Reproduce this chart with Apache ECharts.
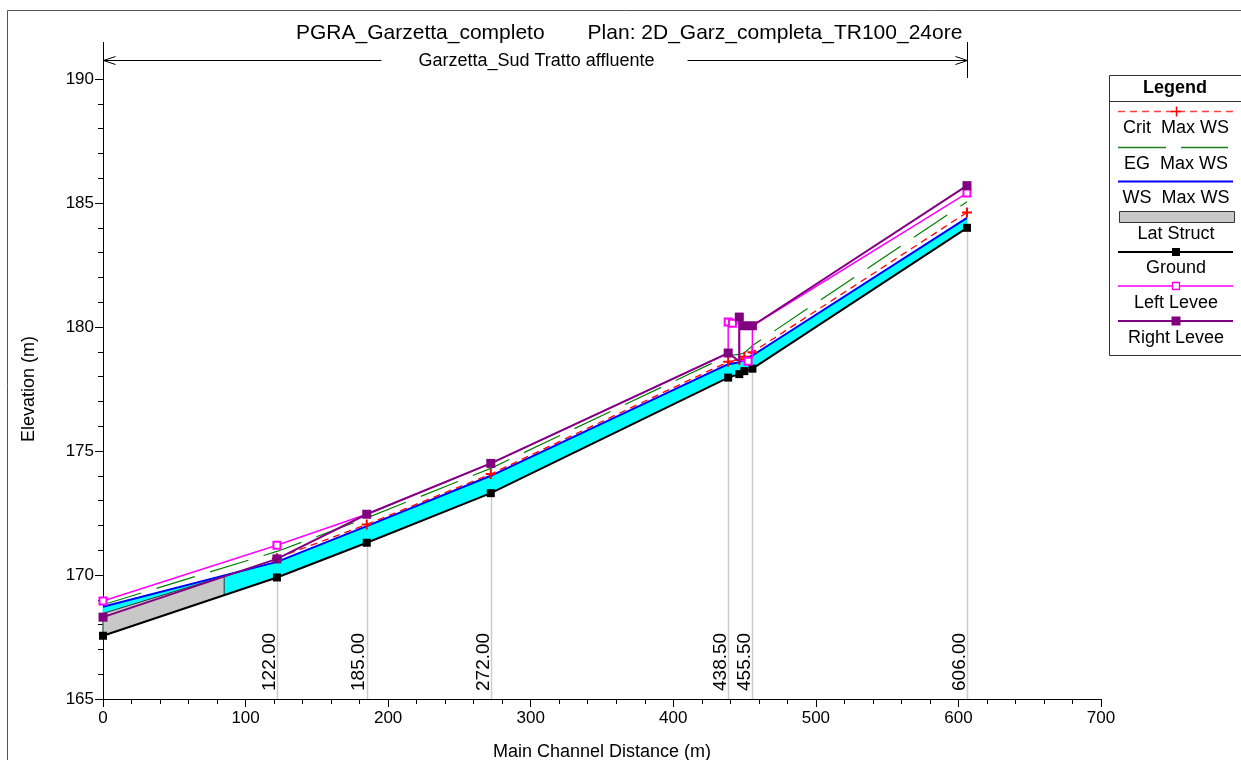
<!DOCTYPE html>
<html>
<head>
<meta charset="utf-8">
<script src="https://cdn.jsdelivr.net/npm/echarts@6/dist/echarts.min.js"></script>
<style>html,body{margin:0;padding:0;background:#fff}#c{width:1241px;height:760px}</style>
</head>
<body>
<div id="c"></div>
<script>
// ---- data ----
const titleLeft = 'PGRA_Garzetta_completo';
const titleRight = 'Plan: 2D_Garz_completa_TR100_24ore';
const reachName = 'Garzetta_Sud Tratto affluente';
const reachStart = 0;
const reachEnd = 606;

const stations = [0, 122, 185, 272, 438.5, 446.3, 449.8, 455.5, 606];
const ground   = [167.55, 169.9, 171.3, 173.3, 177.96, 178.1, 178.22, 178.32, 184.0];
const wsMax    = [168.72, 170.53, 171.97, 174.0, 178.5, 178.58, 178.7, 178.85, 184.4];
const egMax    = [168.8, 170.95, 172.3, 174.3, 178.85, 178.9, 178.95, 179.25, 185.05];
const critX    = [122, 185, 272, 438.5, 446.3, 449.8, 455.5, 606];
const critMax  = [170.68, 172.04, 174.07, 178.6, 178.67, 178.8, 178.98, 184.62];

const leftLeveeX    = [0, 122, 185, 272, 438.5, 438.5, 441.5, 446.3, 446.3, 452.5, 455.5, 455.5, 606];
const leftLeveeY    = [168.95, 171.2, 172.45, 174.5, 178.95, 180.2, 180.15, 180.15, 178.65, 178.62, 178.75, 180.05, 185.4];
const leftLeveeMark = [1, 1, 0, 0, 0, 1, 1, 0, 0, 1, 0, 0, 1];

const rightLeveeX    = [0, 122, 185, 272, 438.5, 446.3, 446.3, 449.8, 455.5, 606];
const rightLeveeY    = [168.3, 170.65, 172.45, 174.5, 178.95, 178.62, 180.4, 180.05, 180.05, 185.7];
const rightLeveeMark = [1, 1, 1, 1, 1, 0, 1, 1, 1, 1];

const latStructX      = [0, 85];
const latStructTop    = [168.45, 169.95];
const latStructBottom = [167.55, 169.19];

const labeledStations = [122, 185, 272, 438.5, 455.5, 606];
const stationLabels   = ['122.00', '185.00', '272.00', '438.50', '455.50', '606.00'];

const xMin = 0, xMax = 700, xStep = 100;
const yMin = 165, yMax = 190, yStep = 5;

// ---- chart ----
const FONT = '"Liberation Sans", Arial, sans-serif';
const chart = echarts.init(document.getElementById('c'), null, {renderer: 'canvas'});

function pairs(xs, ys) { return xs.map((x, i) => [x, ys[i]]); }
function groundAt(s) { return ground[stations.indexOf(s)]; }

const plusPath = 'path://M4,0H6V4H10V6H6V10H4V6H0V4H4Z';

const legendX0 = 1118, legendX1 = 1233, legendCx = 1176;
const legendText = (t, y) => ({type: 'text', x: legendCx, y: y, style: {text: t, font: '18px ' + FONT, fill: '#000', align: 'center', verticalAlign: 'middle'}, z: 100});
const legendLine = (y, color, w, dash) => ({type: 'line', shape: {x1: legendX0, y1: y, x2: legendX1, y2: y}, style: {stroke: color, lineWidth: w, lineDash: dash || null}, z: 100});

const option = {
  animation: false,
  backgroundColor: '#fff',
  title: {
    text: '{a|' + titleLeft + '}{g|}{a|' + titleRight + '}',
    left: 291, top: 18,
    textStyle: {fontWeight: 'normal', rich: {a: {fontFamily: FONT, fontSize: 21, fontWeight: 'normal', color: '#000'}, g: {width: 43}}}
  },
  grid: {left: 103, right: 140, top: 79, bottom: 61, containLabel: false, outerBoundsMode: 'none'},
  xAxis: {
    type: 'value', min: xMin, max: xMax, interval: xStep,
    name: 'Main Channel Distance (m)', nameLocation: 'middle', nameGap: 44,
    nameTextStyle: {fontFamily: FONT, fontSize: 18, color: '#000'},
    axisLine: {show: true, onZero: false, lineStyle: {color: '#000', width: 1}},
    axisTick: {show: true, length: 8, lineStyle: {color: '#000'}},
    minorTick: {show: true, splitNumber: 5, length: 5, lineStyle: {color: '#000'}},
    axisLabel: {fontFamily: FONT, fontSize: 17, color: '#000', margin: 11},
    splitLine: {show: false}
  },
  yAxis: {
    type: 'value', min: yMin, max: yMax, interval: yStep,
    name: 'Elevation (m)', nameLocation: 'middle', nameGap: 65, nameRotate: 90,
    nameTextStyle: {fontFamily: FONT, fontSize: 18, color: '#000'},
    axisLine: {show: true, onZero: false, lineStyle: {color: '#000', width: 1}},
    axisTick: {show: true, length: 8, lineStyle: {color: '#000'}},
    minorTick: {show: true, splitNumber: 5, length: 5, lineStyle: {color: '#000'}},
    axisLabel: {fontFamily: FONT, fontSize: 17, color: '#000', margin: 9},
    splitLine: {show: false}
  },
  graphic: {elements: [
    {type: 'rect', shape: {x: 7.5, y: 10.5, width: 1400, height: 900}, style: {fill: 'none', stroke: '#555', lineWidth: 1}, z: 90},
    {type: 'rect', shape: {x: 1109.5, y: 75.5, width: 200, height: 280}, style: {fill: '#fff', stroke: '#333', lineWidth: 1}, z: 99},
    {type: 'text', x: 1175, y: 88, style: {text: 'Legend', font: 'bold 18px ' + FONT, fill: '#000', align: 'center', verticalAlign: 'middle'}, z: 100},
    {type: 'line', shape: {x1: 1109, y1: 101.5, x2: 1241, y2: 101.5}, style: {stroke: '#333', lineWidth: 1}, z: 100},
    legendLine(111.5, '#ff4040', 1.5, [7, 5]),
    {type: 'line', shape: {x1: legendCx - 5, y1: 111.5, x2: legendCx + 5, y2: 111.5}, style: {stroke: '#ff0000', lineWidth: 1.5}, z: 101},
    {type: 'line', shape: {x1: legendCx + 0.5, y1: 106.5, x2: legendCx + 0.5, y2: 116.5}, style: {stroke: '#ff0000', lineWidth: 1.5}, z: 101},
    legendText('Crit  Max WS', 128),
    {type: 'line', shape: {x1: 1118, y1: 147.5, x2: 1166, y2: 147.5}, style: {stroke: '#208020', lineWidth: 1.3}, z: 100},
    {type: 'line', shape: {x1: 1181, y1: 147.5, x2: 1228, y2: 147.5}, style: {stroke: '#208020', lineWidth: 1.3}, z: 100},
    legendText('EG  Max WS', 164),
    legendLine(181.5, '#0000ff', 2),
    legendText('WS  Max WS', 198),
    {type: 'rect', shape: {x: 1119.5, y: 211.5, width: 115, height: 11}, style: {fill: '#c8c8c8', stroke: '#333', lineWidth: 1}, z: 100},
    legendText('Lat Struct', 234),
    legendLine(252, '#000', 2),
    {type: 'rect', shape: {x: legendCx - 4, y: 248, width: 8, height: 8}, style: {fill: '#000'}, z: 101},
    legendText('Ground', 268),
    legendLine(286, '#ff00ff', 1.5),
    {type: 'rect', shape: {x: legendCx - 3.5, y: 282.5, width: 7, height: 7}, style: {fill: '#fff', stroke: '#ff00ff', lineWidth: 1.3}, z: 101},
    legendText('Left Levee', 303),
    legendLine(321, '#800080', 2),
    {type: 'rect', shape: {x: legendCx - 4.5, y: 316.5, width: 9, height: 9}, style: {fill: '#800080'}, z: 101},
    legendText('Right Levee', 338)
  ]},
  series: [
    { // station gridlines + labels
      type: 'custom', z: 1, silent: true,
      data: labeledStations.map(s => [s, groundAt(s)]),
      renderItem: function (params, api) {
        const p0 = api.coord([api.value(0), yMin]);
        const p1 = api.coord([api.value(0), api.value(1)]);
        return {type: 'group', children: [
          {type: 'line', shape: {x1: Math.round(p0[0]) + 0.5, y1: p0[1], x2: Math.round(p0[0]) + 0.5, y2: p1[1]}, style: {stroke: '#cccccc', lineWidth: 1.5}},
          {type: 'text', x: p0[0] + 2, y: p0[1] - 8, rotation: Math.PI / 2, z2: 5,
           style: {text: stationLabels[params.dataIndex], font: '19px ' + FONT, fill: '#000', align: 'left', verticalAlign: 'bottom'}}
        ]};
      }
    },
    { // water (WS) fill
      type: 'custom', z: 2, silent: true, data: [[0, yMin]],
      renderItem: function (params, api) {
        const top = stations.map((x, i) => api.coord([x, wsMax[i]]));
        const bot = stations.map((x, i) => api.coord([x, ground[i]])).reverse();
        return {type: 'polygon', shape: {points: top.concat(bot)}, style: {fill: '#00ffff', stroke: '#00c0c0', lineWidth: 0.5}};
      }
    },
    { // lateral structure
      type: 'custom', z: 3, silent: true, data: [[0, yMin]],
      renderItem: function (params, api) {
        const top = latStructX.map((x, i) => api.coord([x, latStructTop[i]]));
        const bot = latStructX.map((x, i) => api.coord([x, latStructBottom[i]])).reverse();
        return {type: 'polygon', shape: {points: top.concat(bot)}, style: {fill: '#c8c8c8', stroke: '#333', lineWidth: 1}};
      }
    },
    { // reach annotation
      type: 'custom', z: 4, silent: true, clip: false, data: [[reachStart, yMax]],
      renderItem: function (params, api) {
        const a = api.coord([reachStart, yMax]);
        const b = api.coord([reachEnd, yMax]);
        const yTop = a[1] - 37, yBot = a[1] - 1, yA = Math.round(a[1] - 19) + 0.5;
        const xa = Math.round(a[0]) + 0.5, xb = Math.round(b[0]) + 0.5;
        const mid = (xa + xb) / 2;
        const st = {stroke: '#000', lineWidth: 1, fill: 'none'};
        return {type: 'group', children: [
          {type: 'line', shape: {x1: xa, y1: yTop, x2: xa, y2: a[1]}, style: st},
          {type: 'line', shape: {x1: xb, y1: yTop, x2: xb, y2: yBot}, style: st},
          {type: 'line', shape: {x1: xa, y1: yA, x2: mid - 154, y2: yA}, style: st},
          {type: 'line', shape: {x1: mid + 152, y1: yA, x2: xb, y2: yA}, style: st},
          {type: 'polyline', shape: {points: [[xa + 12, yA - 4], [xa, yA], [xa + 12, yA + 4]]}, style: st},
          {type: 'polyline', shape: {points: [[xb - 12, yA - 4], [xb, yA], [xb - 12, yA + 4]]}, style: st},
          {type: 'text', x: mid + 1, y: yA + 1, style: {text: reachName, font: '18px ' + FONT, fill: '#000', align: 'center', verticalAlign: 'middle'}}
        ]};
      }
    },
    {
      name: 'Ground', type: 'line', z: 5, data: pairs(stations, ground),
      lineStyle: {color: '#000', width: 2}, itemStyle: {color: '#000'},
      symbol: 'rect', symbolSize: 8, showAllSymbol: true
    },
    {
      name: 'WS Max WS', type: 'line', z: 6, data: pairs(stations, wsMax),
      lineStyle: {color: '#0000ff', width: 2}, symbol: 'none'
    },
    {
      name: 'EG Max WS', type: 'line', z: 7, data: pairs(stations, egMax),
      lineStyle: {color: '#008000', width: 1.2, type: [40, 16]}, symbol: 'none'
    },
    {
      name: 'Crit Max WS', type: 'line', z: 8, data: pairs(critX, critMax),
      lineStyle: {color: '#ff0000', width: 1.3, type: [7, 5]}, itemStyle: {color: '#ff0000'},
      symbol: plusPath, symbolSize: 10, showAllSymbol: true
    },
    {
      name: 'Left Levee', type: 'line', z: 9,
      data: leftLeveeX.map((x, i) => leftLeveeMark[i] ? {value: [x, leftLeveeY[i]]} : {value: [x, leftLeveeY[i]], symbol: 'none'}),
      lineStyle: {color: '#ff00ff', width: 1.5}, itemStyle: {color: '#ff00ff', borderWidth: 1.3},
      symbol: 'emptyRect', symbolSize: 7, showAllSymbol: true
    },
    {
      name: 'Right Levee', type: 'line', z: 10,
      data: rightLeveeX.map((x, i) => rightLeveeMark[i] ? {value: [x, rightLeveeY[i]]} : {value: [x, rightLeveeY[i]], symbol: 'none'}),
      lineStyle: {color: '#800080', width: 2}, itemStyle: {color: '#800080'},
      symbol: 'rect', symbolSize: 9, showAllSymbol: true
    }
  ]
};
chart.setOption(option);
</script>
</body>
</html>
